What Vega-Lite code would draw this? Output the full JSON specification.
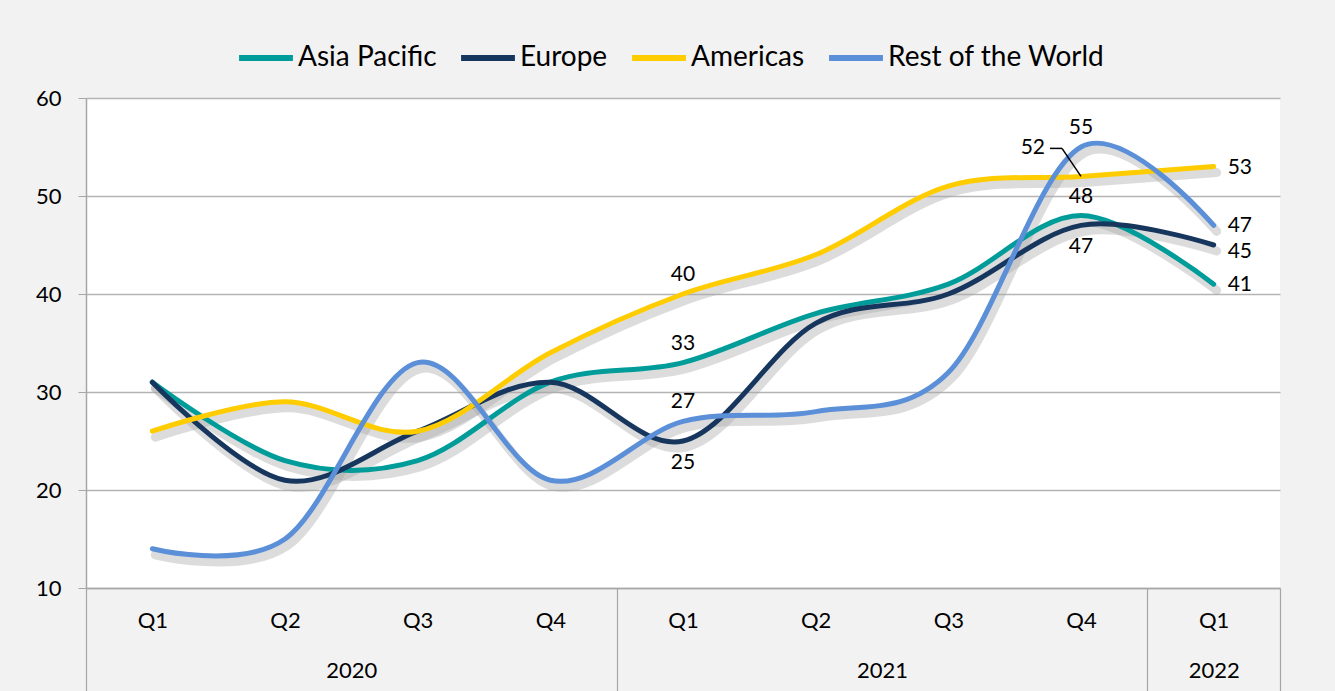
{
  "$schema": "https://vega.github.io/schema/vega-lite/v6.json",
  "width": 1194,
  "height": 490,
  "autosize": {"type": "none"},
  "padding": {"left": 86, "top": 98, "right": 55, "bottom": 103},
  "background": "#f2f2f2",
  "config": {
    "view": {"fill": "white", "stroke": null},
    "font": "Lato",
    "text": {"font": "Lato"}
  },
  "data": {
    "values": [
      {"t": 0, "series": "Asia Pacific", "value": 31},
      {"t": 1, "series": "Asia Pacific", "value": 23},
      {"t": 2, "series": "Asia Pacific", "value": 23},
      {"t": 3, "series": "Asia Pacific", "value": 31},
      {"t": 4, "series": "Asia Pacific", "value": 33},
      {"t": 5, "series": "Asia Pacific", "value": 38},
      {"t": 6, "series": "Asia Pacific", "value": 41},
      {"t": 7, "series": "Asia Pacific", "value": 48},
      {"t": 8, "series": "Asia Pacific", "value": 41},
      {"t": 0, "series": "Europe", "value": 31},
      {"t": 1, "series": "Europe", "value": 21},
      {"t": 2, "series": "Europe", "value": 26},
      {"t": 3, "series": "Europe", "value": 31},
      {"t": 4, "series": "Europe", "value": 25},
      {"t": 5, "series": "Europe", "value": 37},
      {"t": 6, "series": "Europe", "value": 40},
      {"t": 7, "series": "Europe", "value": 47},
      {"t": 8, "series": "Europe", "value": 45},
      {"t": 0, "series": "Americas", "value": 26},
      {"t": 1, "series": "Americas", "value": 29},
      {"t": 2, "series": "Americas", "value": 26},
      {"t": 3, "series": "Americas", "value": 34},
      {"t": 4, "series": "Americas", "value": 40},
      {"t": 5, "series": "Americas", "value": 44},
      {"t": 6, "series": "Americas", "value": 51},
      {"t": 7, "series": "Americas", "value": 52},
      {"t": 8, "series": "Americas", "value": 53},
      {"t": 0, "series": "Rest of the World", "value": 14},
      {"t": 1, "series": "Rest of the World", "value": 15},
      {"t": 2, "series": "Rest of the World", "value": 33},
      {"t": 3, "series": "Rest of the World", "value": 21},
      {"t": 4, "series": "Rest of the World", "value": 27},
      {"t": 5, "series": "Rest of the World", "value": 28},
      {"t": 6, "series": "Rest of the World", "value": 32},
      {"t": 7, "series": "Rest of the World", "value": 55},
      {"t": 8, "series": "Rest of the World", "value": 47}
    ]
  },
  "resolve": {"axis": {"x": "independent"}},
  "layer": [
    {
      "mark": {"type": "line", "interpolate": "cardinal", "tension": 0, "strokeWidth": 9, "color": "#a8a8a8", "opacity": 0.4, "xOffset": 3, "yOffset": 6, "strokeCap": "round"},
      "encoding": {
        "x": {"field": "t", "type": "quantitative", "scale": {"domain": [-0.5, 8.5], "nice": false, "zero": false},
          "axis": {"orient": "bottom", "values": [-0.5, 3.5, 7.5, 8.5], "labels": false, "grid": false, "domain": false, "ticks": true, "tickSize": 103, "tickColor": "#a6a6a6", "tickWidth": 1.2, "title": null}},
        "y": {"field": "value", "type": "quantitative", "scale": {"domain": [10, 60], "nice": false, "zero": false},
          "axis": {"values": [10, 20, 30, 40, 50, 60], "title": null, "grid": true, "gridColor": "#b4b4b4", "gridWidth": 1.5, "domainColor": "#a6a6a6", "domainWidth": 1.5, "tickColor": "#a6a6a6", "tickSize": 8, "labelFontSize": 22, "labelColor": "#000000", "labelPadding": 17, "labelFont": "Lato"}},
        "detail": {"field": "series"}
      }
    },
    {
      "mark": {"type": "line", "interpolate": "cardinal", "tension": 0, "strokeWidth": 5, "strokeCap": "round"},
      "encoding": {
        "x": {"field": "t", "type": "quantitative", "scale": {"domain": [-0.5, 8.5], "nice": false, "zero": false},
          "axis": {"orient": "bottom", "values": [0, 1, 2, 3, 4, 5, 6, 7, 8], "labelExpr": "['Q1','Q2','Q3','Q4','Q1','Q2','Q3','Q4','Q1'][datum.value]", "ticks": false, "domain": true, "domainColor": "#a6a6a6", "domainWidth": 1.5, "grid": false, "labelFontSize": 22, "labelColor": "#000000", "labelPadding": 22, "labelFont": "Lato", "title": null}},
        "y": {"field": "value", "type": "quantitative"},
        "color": {"field": "series", "type": "nominal",
          "scale": {"domain": ["Asia Pacific", "Europe", "Americas", "Rest of the World"], "range": ["#009C99", "#17365D", "#FFCC00", "#5B8FD8"]},
          "legend": {"orient": "none", "legendX": 150, "legendY": -70, "direction": "horizontal", "title": null, "symbolType": "stroke", "symbolSize": 2900, "symbolStrokeWidth": 6, "labelFontSize": 28, "labelFont": "Lato", "labelColor": "#000000", "labelOffset": 2, "labelLimit": 0, "columnPadding": 12, "padding": 0}}
      }
    },
    {
      "mark": {"type": "text", "fontSize": 21, "font": "Lato", "color": "#000000", "dy": -19},
      "transform": [{"filter": "(datum.t == 4 && datum.series != 'Europe') || (datum.t == 7 && (datum.series == 'Rest of the World' || datum.series == 'Asia Pacific'))"}],
      "encoding": {
        "x": {"field": "t", "type": "quantitative", "axis": {"orient": "bottom", "values": [1.5, 5.5, 8], "labelExpr": "datum.value == 1.5 ? '2020' : datum.value == 5.5 ? '2021' : '2022'", "ticks": false, "domain": false, "grid": false, "labelFontSize": 22, "labelColor": "#000000", "labelPadding": 72, "labelFont": "Lato", "title": null}},
        "y": {"field": "value", "type": "quantitative"},
        "text": {"field": "value", "type": "quantitative"}
      }
    },
    {
      "mark": {"type": "text", "fontSize": 21, "font": "Lato", "color": "#000000", "dy": 22},
      "transform": [{"filter": "datum.series == 'Europe' && (datum.t == 4 || datum.t == 7)"}],
      "encoding": {
        "x": {"field": "t", "type": "quantitative", "axis": null},
        "y": {"field": "value", "type": "quantitative"},
        "text": {"field": "value", "type": "quantitative"}
      }
    },
    {
      "mark": {"type": "text", "fontSize": 21, "font": "Lato", "color": "#000000", "align": "left", "dx": 14, "dy": 1},
      "transform": [{"filter": "datum.t == 8 && datum.series != 'Europe'"}],
      "encoding": {
        "x": {"field": "t", "type": "quantitative", "axis": null},
        "y": {"field": "value", "type": "quantitative"},
        "text": {"field": "value", "type": "quantitative"}
      }
    },
    {
      "mark": {"type": "text", "fontSize": 21, "font": "Lato", "color": "#000000", "align": "left", "dx": 14, "dy": 7},
      "transform": [{"filter": "datum.t == 8 && datum.series == 'Europe'"}],
      "encoding": {
        "x": {"field": "t", "type": "quantitative", "axis": null},
        "y": {"field": "value", "type": "quantitative"},
        "text": {"field": "value", "type": "quantitative"}
      }
    },
    {
      "mark": {"type": "text", "fontSize": 21, "font": "Lato", "color": "#000000", "align": "right", "dx": -36, "dy": -28},
      "transform": [{"filter": "datum.t == 7 && datum.series == 'Americas'"}],
      "encoding": {
        "x": {"field": "t", "type": "quantitative", "axis": null},
        "y": {"field": "value", "type": "quantitative"},
        "text": {"field": "value", "type": "quantitative"}
      }
    },
    {
      "mark": {"type": "rule", "color": "#000000", "strokeWidth": 1.5, "x2Offset": -19, "y2Offset": -28},
      "transform": [{"filter": "datum.t == 7 && datum.series == 'Americas'"}],
      "encoding": {
        "x": {"field": "t", "type": "quantitative", "axis": null},
        "y": {"field": "value", "type": "quantitative"},
        "x2": {"field": "t"},
        "y2": {"field": "value"}
      }
    },
    {
      "mark": {"type": "rule", "color": "#000000", "strokeWidth": 1.5, "xOffset": -19, "yOffset": -28, "x2Offset": -31, "y2Offset": -28},
      "transform": [{"filter": "datum.t == 7 && datum.series == 'Americas'"}],
      "encoding": {
        "x": {"field": "t", "type": "quantitative", "axis": null},
        "y": {"field": "value", "type": "quantitative"},
        "x2": {"field": "t"},
        "y2": {"field": "value"}
      }
    }
  ]
}
